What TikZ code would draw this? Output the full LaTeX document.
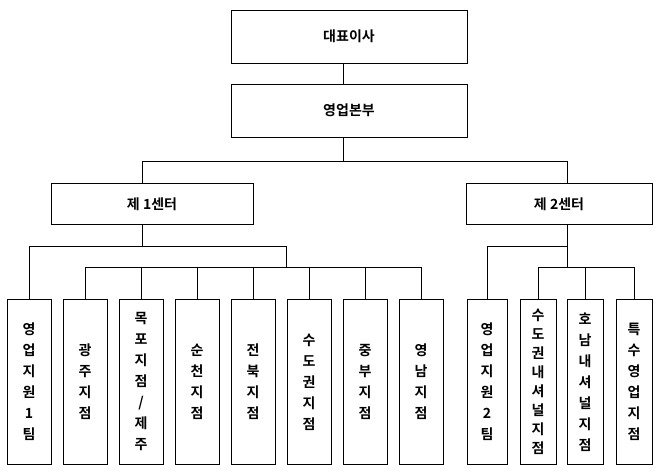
\documentclass[tikz,border=0pt]{standalone}
\usepackage{fontspec}
\setmainfont{Noto Sans CJK KR Bold}
\usetikzlibrary{positioning}
\tikzset{box/.style = {shape=rectangle,draw,line width=1pt,inner sep=0pt,font=\fontsize{14}{14}\selectfont}}
\tikzset{topbox/.style = {box,minimum width=236pt,minimum height=53pt}}
\tikzset{midbox/.style = {box,minimum width=202pt,minimum height=41pt}}
\tikzset{leaf/.style = {box,minimum width=44pt,minimum height=165pt,align=center,font=\fontsize{14}{21}\selectfont}}
\tikzset{edge/.style = {line width=1pt}}
\begin{document}
\begin{tikzpicture}[x=1pt,y=-1pt]
            \useasboundingbox (0,0) rectangle (660,474);
            % Boxes
            \node[topbox] (ceo) at (349,36.5) {대표이사};
            \node[topbox] (sales) at (349,110.5) {영업본부};
            \node[midbox] (c1) at (152,204) {제 1센터};
            \node[midbox,minimum width=186pt] (c2) at (559,204) {제 2센터};

            \node[leaf] (a1) at (29,382) {영\\업\\지\\원\\1\\팀};
            \node[leaf] (a2) at (85,382) {광\\주\\지\\점};
            \node[leaf] (a3) at (141,382) {목\\포\\지\\점\\/\\제\\주};
            \node[leaf] (a4) at (197,382) {순\\천\\지\\점};
            \node[leaf] (a5) at (253,382) {전\\북\\지\\점};
            \node[leaf] (a6) at (309,382) {수\\도\\권\\지\\점};
            \node[leaf] (a7) at (365,382) {중\\부\\지\\점};
            \node[leaf] (a8) at (421,382) {영\\남\\지\\점};

            \node[leaf,minimum width=40pt] (b1) at (487,382) {영\\업\\지\\원\\2\\팀};
            \node[leaf,minimum width=36pt,font=\fontsize{14}{19}\selectfont] (b2) at (538,382) {수\\도\\권\\내\\셔\\널\\지\\점};
            \node[leaf,minimum width=36pt] (b3) at (585,382) {호\\남\\내\\셔\\널\\지\\점};
            \node[leaf,minimum width=36pt] (b4) at (634,382) {특\\수\\영\\업\\지\\점};

            % Edges
            \coordinate (t) at (343,0);
            \coordinate (l) at (142,0);
            \coordinate (r) at (567,0);
            \draw[edge] (t |- ceo.south) -- (t |- sales.north);
            \draw[edge] (t |- sales.south) |- (l |- 0,161) -- (l |- c1.north);
            \draw[edge] (t |- sales.south) |- (r |- 0,161) -- (r |- c2.north);

            % center 1
            \coordinate (j1) at (286,246);
            \draw[edge] (l |- c1.south) |- (a1.north |- j1) -- (a1.north);
            \draw[edge] (l |- c1.south) |- (j1) -- (286,267);
            \draw[edge] (a2.north |- 0,267) -- (a8.north |- 0,267);
            \foreach \n in {a2,a3,a4,a5,a6,a7,a8}
                \draw[edge] (\n.north |- 0,267) -- (\n.north);

            % center 2
            \draw[edge] (r |- c2.south) |- (b1.north |- 0,246) -- (b1.north);
            \draw[edge] (r |- c2.south) -- (r |- 0,267);
            \draw[edge] (b2.north |- 0,267) -- (b4.north |- 0,267);
            \foreach \n in {b2,b3,b4}
                \draw[edge] (\n.north |- 0,267) -- (\n.north);
        \end{tikzpicture}
\end{document}
